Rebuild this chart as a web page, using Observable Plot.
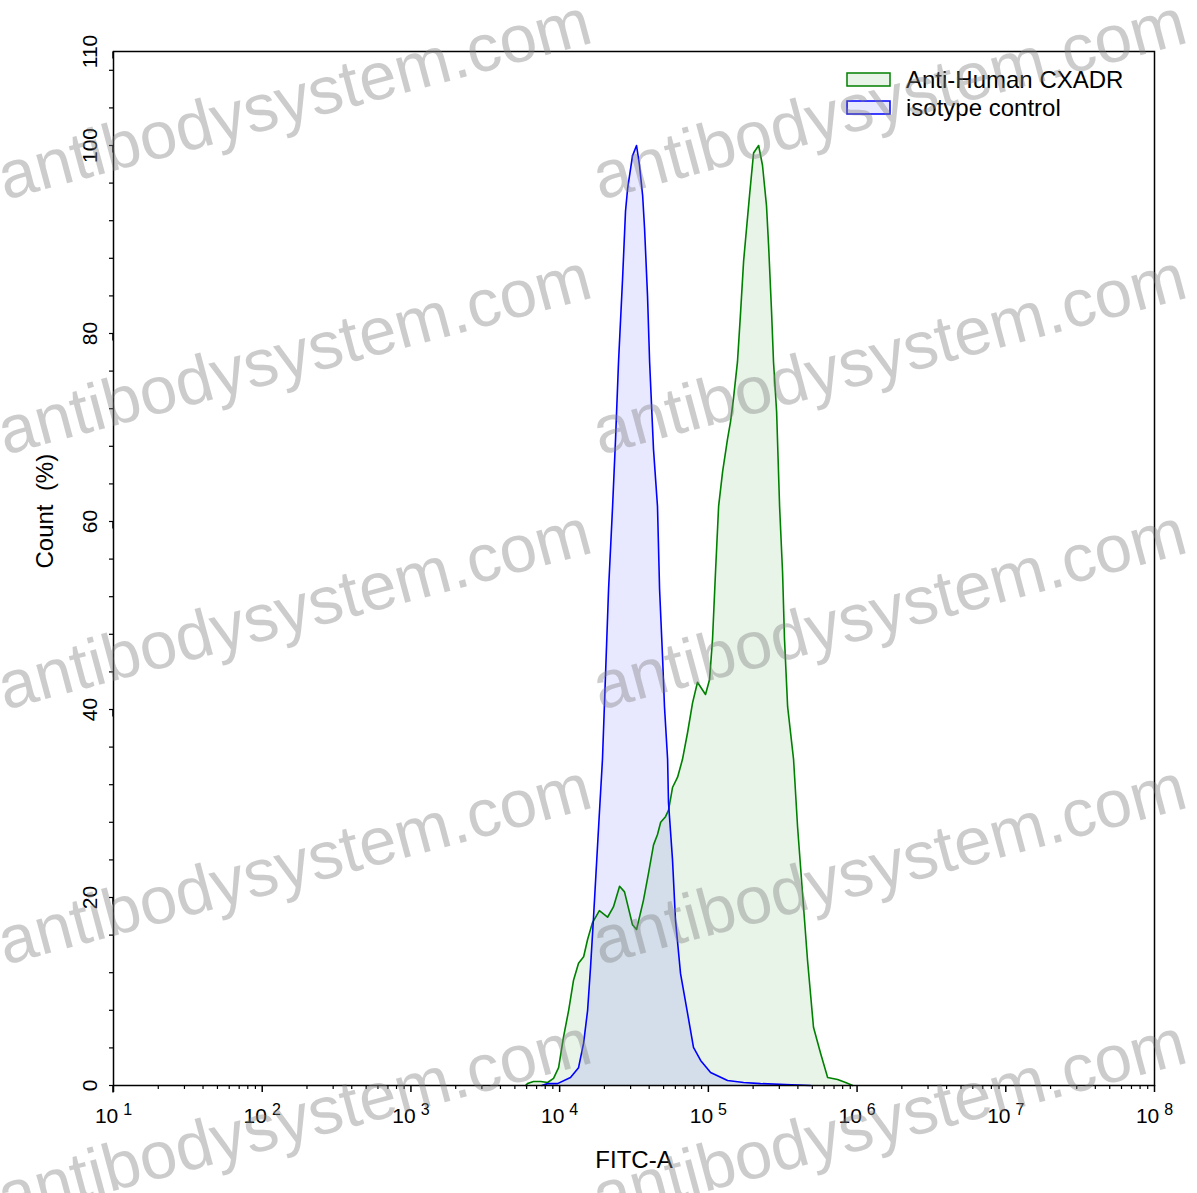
<!DOCTYPE html>
<html><head><meta charset="utf-8">
<script src="https://cdn.jsdelivr.net/npm/d3@7"></script>
<script src="https://cdn.jsdelivr.net/npm/@observablehq/plot@0.6"></script>
<style>
html,body{margin:0;padding:0;background:#fff}
#chart{position:relative;width:1197px;height:1193px}
svg text{white-space:pre}
</style>
</head><body><div id="chart"></div>
<script>
// Series: Anti-Human CXADR (green)
const xGreen = [5900, 6080, 6670, 7450, 8300, 9100, 9840, 10600, 11500, 12400, 13400, 14500, 15400, 16600, 18500, 21000, 23000, 25300, 27300, 30900, 32900, 36600, 39600, 42800, 45500, 47800, 51500, 54000, 57400, 62100, 67000, 72400, 78300, 84500, 95700, 101900, 106700, 111700, 117200, 124700, 134600, 140900, 147600, 157000, 164800, 172600, 180700, 189200, 201400, 217800, 231200, 246000, 254100, 266100, 274200, 287700, 301300, 315500, 325100, 341200, 374100, 398100, 429500, 464500, 509300, 568900, 633900, 739600, 837500, 933300];
const yGreen = [0, 0.2, 0.43, 0.43, 0.32, 0.75, 1.9, 5.1, 8.0, 11.2, 13.0, 13.7, 15.5, 17.3, 18.6, 17.9, 19.0, 21.2, 20.6, 17.1, 16.6, 19.7, 22.6, 25.6, 26.7, 28.0, 28.6, 29.3, 31.7, 32.8, 34.7, 37.5, 40.7, 42.9, 41.6, 43.2, 47.5, 54.6, 61.6, 65.3, 68.8, 70.6, 73.1, 77.0, 82.3, 87.7, 91.2, 94.7, 99.2, 100, 97.9, 93.6, 89.4, 82.3, 77.0, 71.7, 61.6, 54.6, 47.5, 40.3, 34.7, 27.5, 20.5, 13.3, 6.2, 3.4, 0.85, 0.64, 0.32, 0];
// Series: isotype control (blue)
const xBlue = [7600, 8300, 9680, 11830, 13400, 14490, 15420, 16140, 16900, 18280, 19410, 20370, 21330, 22700, 23770, 24890, 26490, 27730, 28640, 30900, 32890, 34430, 36140, 37240, 38990, 40270, 42760, 45500, 46990, 49200, 50700, 53210, 53950, 57410, 60120, 65010, 72440, 79430, 88720, 103500, 134600, 172600, 224400, 330400, 486400];
const yBlue = [0, 0.2, 0.2, 0.85, 1.9, 4.5, 8.0, 12.6, 17.9, 27.5, 34.7, 43.9, 52.8, 61.6, 68.8, 77.0, 85.8, 93.0, 95.4, 98.9, 100, 97.9, 94.7, 91.2, 84.0, 77.0, 67.7, 61.6, 52.8, 45.6, 40.3, 34.7, 30.1, 24.0, 17.6, 11.9, 7.7, 4.05, 2.67, 1.39, 0.53, 0.32, 0.2, 0.1, 0];

const seriesNames = ["Anti-Human CXADR", "isotype control"];
const seriesColors = ["green", "blue"];
const xMajorTicks = [1e1, 1e2, 1e3, 1e4, 1e5, 1e6, 1e7, 1e8];
const xMinorMultipliers = [2, 3, 4, 5, 6, 7, 8, 9];
const yMajorTicks = [0, 20, 40, 60, 80, 100, 110];
const yMinorStep = 4;
const xTitle = "FITC-A";
const yTitle = "Count  (%)";
const watermarkText = "antibodysystem.com";

const green = xGreen.map((x, i) => ({x, y: yGreen[i]}));
const blue = xBlue.map((x, i) => ({x, y: yBlue[i]}));
const xMinorTicks = [];
for (const d of xMajorTicks.slice(0, -1)) for (const m of xMinorMultipliers) xMinorTicks.push(d * m);
const yMinorTicks = d3.range(0, 110, yMinorStep);

const FONT = "'Liberation Sans', Arial, sans-serif";
const W = 1197, H = 1193;
const fillOp = 0.09;

const chart = Plot.plot({
  width: W, height: H,
  marginLeft: 113, marginRight: 43, marginTop: 51, marginBottom: 108,
  style: {fontFamily: FONT, fontSize: "21px", color: "black", background: "white", overflow: "visible"},
  x: {type: "log", domain: [1e1, 1e8], label: null},
  y: {domain: [0, 110], label: null},
  marks: [
    Plot.areaY(green, {x: "x", y: "y", fill: seriesColors[0], fillOpacity: fillOp}),
    Plot.areaY(blue, {x: "x", y: "y", fill: seriesColors[1], fillOpacity: fillOp}),
    Plot.line(green, {x: "x", y: "y", stroke: seriesColors[0], strokeWidth: 1.6}),
    Plot.line(blue, {x: "x", y: "y", stroke: seriesColors[1], strokeWidth: 1.6}),
    Plot.frame({stroke: "black", strokeWidth: 1.5}),
    Plot.axisX({ticks: xMinorTicks, tickSize: 4, tickFormat: () => "", strokeWidth: 1.2, label: null}),
    Plot.axisX({ticks: xMajorTicks, tickSize: 7, tickPadding: 16, strokeWidth: 1.5, fontSize: 21, label: null,
      tickFormat: d => "10^" + Math.round(Math.log10(d)), className: "xmaj"}),
    Plot.axisY({ticks: yMinorTicks, tickSize: 4, tickFormat: () => "", strokeWidth: 1.2, label: null}),
    Plot.axisY({ticks: yMajorTicks, tickSize: 7, tickPadding: 10, strokeWidth: 1.5, fontSize: 21, label: null,
      rotate: -90, textAnchor: "middle", lineAnchor: "bottom"}),
    Plot.text([xTitle], {text: d => d, frameAnchor: "bottom", dy: 82, lineAnchor: "bottom", fontSize: 24}),
    Plot.text([yTitle], {text: d => d, frameAnchor: "left", dx: -61, rotate: -90, lineAnchor: "bottom", fontSize: 24})
  ]
});
document.getElementById("chart").appendChild(chart);

// superscript exponents on x tick labels
chart.querySelectorAll("text").forEach(t => {
  const s = t.textContent;
  if (/^10\^\d+$/.test(s)) {
    const k = s.split("^")[1];
    t.textContent = "10";
    const ts = document.createElementNS("http://www.w3.org/2000/svg", "tspan");
    ts.setAttribute("dx", "5");
    ts.setAttribute("dy", "-8");
    ts.setAttribute("font-size", "16");
    ts.textContent = k;
    t.appendChild(ts);
  }
});

const svg = d3.select(chart);
// legend
const lg = svg.append("g").attr("font-family", FONT).attr("font-size", 24).attr("text-anchor", "start");
seriesNames.forEach((name, i) => {
  const y0 = 73 + i * 28;
  lg.append("rect").attr("x", 847).attr("y", y0).attr("width", 43).attr("height", 13)
    .attr("fill", seriesColors[i]).attr("fill-opacity", fillOp)
    .attr("stroke", seriesColors[i]).attr("stroke-width", 1.5);
  lg.append("text").attr("x", 906).attr("y", y0 + 15).attr("text-anchor", "start").text(name);
});

// watermark
const wm = svg.append("g").attr("font-family", FONT).attr("font-size", 67).attr("text-anchor", "start")
  .attr("fill", "#808080").attr("fill-opacity", 0.4).attr("pointer-events", "none");
[200, 455, 710, 965, 1220].forEach(ry => [5, 600].forEach(cx => {
  wm.append("text").attr("x", cx).attr("y", ry).attr("text-anchor", "start")
    .attr("transform", `rotate(-15 ${cx} ${ry})`).text(watermarkText);
}));
</script>
</body></html>
